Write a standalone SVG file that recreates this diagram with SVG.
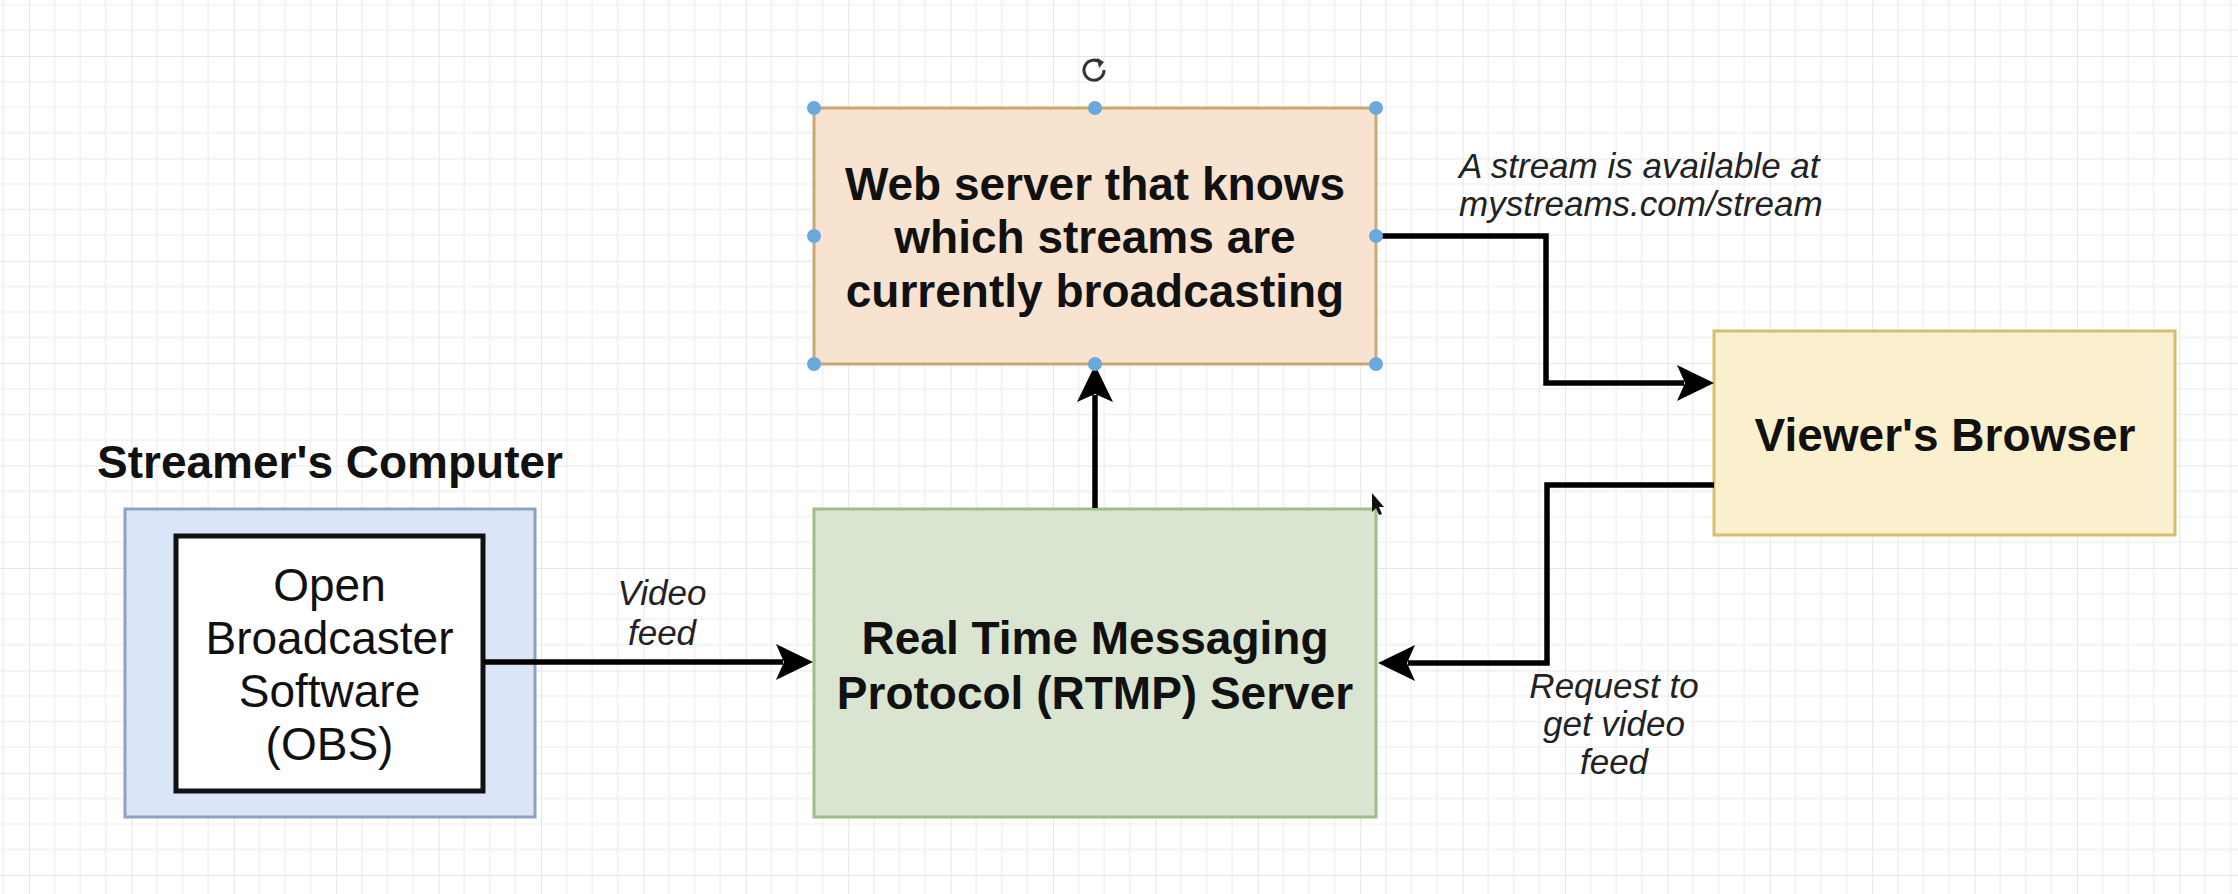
<svg xmlns="http://www.w3.org/2000/svg" width="2238" height="894" viewBox="0 0 2238 894">
  <defs>
    <pattern id="grid" patternUnits="userSpaceOnUse" x="29" y="56" width="102.4" height="102.4">
      <path d="M25.6,0 V102.4 M51.2,0 V102.4 M76.8,0 V102.4 M0,25.6 H102.4 M0,51.2 H102.4 M0,76.8 H102.4" stroke="#f1f1f1" stroke-width="1.6" fill="none"/>
      <path d="M0,0 V102.4 M0,0 H102.4" stroke="#e6e6e6" stroke-width="2" fill="none"/>
    </pattern>
    <marker id="arrow" markerUnits="userSpaceOnUse" viewBox="-5 -25 50 50" refX="7" refY="0" markerWidth="50" markerHeight="50" orient="auto" overflow="visible">
      <path d="M0,-18 L37,0 L0,18 L8,0 Z" fill="#000"/>
    </marker>
    <style>
      .bold { font-family: "Liberation Sans", Arial, sans-serif; font-weight: bold; font-size: 46px; fill: #111; text-anchor: middle; }
      .reg { font-family: "Liberation Sans", Arial, sans-serif; font-size: 46px; fill: #111; text-anchor: middle; }
      .lbl { font-family: "Liberation Sans", Arial, sans-serif; font-style: italic; font-size: 35px; fill: #222; }
      .edge { fill: none; stroke: #000; stroke-width: 5.5; stroke-linejoin: miter; marker-end: url(#arrow); }
      .handle { fill: #6aa8dd; }
    </style>
  </defs>

  <rect x="0" y="0" width="2238" height="894" fill="#ffffff"/>
  <rect x="0" y="0" width="2238" height="894" fill="url(#grid)"/>

  <g id="streamers-computer">
    <text class="bold" x="330" y="478">Streamer's Computer</text>
    <rect x="125" y="509" width="410" height="308" fill="#dae6f8" stroke="#8ca0c8" stroke-width="3"/>
  </g>

  <g id="obs">
    <rect x="176" y="536" width="307" height="255" fill="#ffffff" stroke="#111" stroke-width="5"/>
    <text class="reg" x="329.5" y="601">Open</text>
    <text class="reg" x="329.5" y="654">Broadcaster</text>
    <text class="reg" x="329.5" y="707">Software</text>
    <text class="reg" x="329.5" y="760">(OBS)</text>
  </g>

  <g id="rtmp-server">
    <rect x="814" y="509" width="562" height="308" fill="#d9e5d0" stroke="#a0be87" stroke-width="3"/>
    <text class="bold" x="1095" y="654">Real Time Messaging</text>
    <text class="bold" x="1095" y="709">Protocol (RTMP) Server</text>
  </g>

  <g id="viewers-browser">
    <rect x="1714" y="331" width="461" height="204" fill="#faf0cd" stroke="#d7be6e" stroke-width="3"/>
    <text class="bold" x="1945" y="451">Viewer's Browser</text>
  </g>

  <g id="connectors">
    <path class="edge" d="M483,662 H783"/>
    <path class="edge" d="M1095,508 V395"/>
    <path class="edge" d="M1376,236 H1546 V383 H1684"/>
    <path class="edge" d="M1714,485 H1547 V663 H1408"/>
    <text class="lbl" x="662" y="605" text-anchor="middle">Video</text>
    <text class="lbl" x="662" y="645" text-anchor="middle">feed</text>
    <text class="lbl" x="1459" y="178">A stream is available at</text>
    <text class="lbl" x="1459" y="216">mystreams.com/stream</text>
    <text class="lbl" x="1614" y="698" text-anchor="middle">Request to</text>
    <text class="lbl" x="1614" y="736" text-anchor="middle">get video</text>
    <text class="lbl" x="1614" y="774" text-anchor="middle">feed</text>
  </g>

  <g id="web-server">
    <rect x="814" y="108" width="562" height="256" fill="#f7e3cf" stroke="#c8a972" stroke-width="3"/>
    <text class="bold" x="1095" y="200">Web server that knows</text>
    <text class="bold" x="1095" y="253">which streams are</text>
    <text class="bold" x="1095" y="307">currently broadcasting</text>
    <circle class="handle" cx="814" cy="108" r="7"/>
    <circle class="handle" cx="1095" cy="108" r="7"/>
    <circle class="handle" cx="1376" cy="108" r="7"/>
    <circle class="handle" cx="814" cy="236" r="7"/>
    <circle class="handle" cx="1376" cy="236" r="7"/>
    <circle class="handle" cx="814" cy="364" r="7"/>
    <circle class="handle" cx="1095" cy="364" r="7"/>
    <circle class="handle" cx="1376" cy="364" r="7"/>
    <path d="M1101,63 A10,10 0 1 0 1104,70" fill="none" stroke="#333" stroke-width="3"/>
    <path d="M1097,58 L1104,62 L1099,68 Z" fill="#333"/>
  </g>

  <path d="M1372,493 L1372,512 L1376,508 L1379,515 L1382,514 L1379,507 L1384,507 Z" fill="#111"/>
</svg>
